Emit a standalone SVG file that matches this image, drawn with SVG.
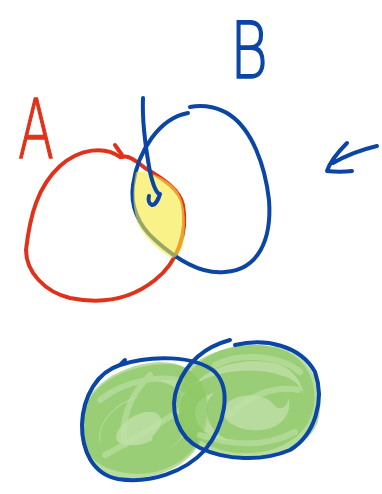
<svg xmlns="http://www.w3.org/2000/svg" width="382" height="494" viewBox="0 0 382 494">
<style>
.red{fill:none;stroke:#e0321a;stroke-width:4;stroke-linecap:round;stroke-linejoin:round}
.blue{fill:none;stroke:#0b45a6;stroke-width:4;stroke-linecap:round;stroke-linejoin:round}
.gf{fill:#9fd07c;fill-opacity:0.75}
.g1{fill:none;stroke:#86c45c;stroke-opacity:0.6;stroke-width:16;stroke-linecap:round;stroke-linejoin:round}
.g2{fill:none;stroke:#bfe2a6;stroke-opacity:0.6;stroke-width:6;stroke-linecap:round;stroke-linejoin:round}
.lbl{font-family:"DejaVu Sans","Liberation Sans",sans-serif;font-weight:200;stroke-width:1.6;stroke-linejoin:round}
</style>
<rect width="382" height="494" fill="#ffffff"/>
<g id="labelA"><text class="lbl" x="18" y="158" font-size="82" fill="#e0321a" stroke="#e0321a" textLength="36" lengthAdjust="spacingAndGlyphs">A</text></g>
<g id="labelB"><text class="lbl" x="230" y="78" font-size="78" fill="#0b45a6" stroke="#0b45a6" textLength="38" lengthAdjust="spacingAndGlyphs">B</text></g>
<g id="circleA">
<path class="red" d="M115,145 L122,155"/>
<path class="red" d="M120,157 C105,146 80,148 60,166 C38,186 30,215 26,250 C26,272 45,292 70,298 C100,304 130,300 155,280 C178,262 188,232 183,205 C180,190 165,180 145,168 C135,160 128,155 122,157"/>
</g>
<g id="circleB">
<path class="blue" d="M190,107 C205,104 220,108 230,115 C252,130 265,165 269,200 C272,240 258,270 225,272 C200,275 175,258 155,240 C138,225 130,205 133,185 C138,150 160,118 188,113"/>
</g>
<g id="intersection">
<path d="M136,172 C150,170 170,180 178,192 C186,205 186,225 183,245 C181,252 176,258 172,258 C160,252 148,240 140,228 C132,212 132,190 136,172 Z" fill="#f5ea3a" fill-opacity="0.6"/>
</g>
<g id="connectors">
<path class="blue" d="M143,98 C142,120 146,150 150,172 C153,185 156,192 159,194 M160,194 C158,200 156,205 152,205 C149,204 148,200 149,196"/>
<path class="blue" d="M377,146 C360,150 345,156 333,163 M347,143 C338,152 330,162 327,171 C335,172 344,172 352,171"/>
</g>
<g id="unionLeft">
<path class="gf" d="M80,425 C80,395 110,365 160,362 C200,362 215,395 205,430 C195,465 160,480 125,478 C95,475 80,455 80,425 Z"/>
<path class="g1" d="M90,420 C95,390 130,372 170,372 C200,375 205,410 190,440 C170,470 120,475 95,450 C85,435 95,410 120,395 C150,380 185,390 180,420 C175,445 140,460 115,450 C100,440 110,415 140,405 C165,398 180,420 160,440"/>
<path class="g2" d="M100,400 C125,380 165,372 195,385 M105,455 C135,440 165,420 188,405 M150,375 C130,395 120,420 125,445"/>
</g>
<g id="unionRight">
<path class="gf" d="M180,395 C185,365 215,345 255,345 C295,345 318,370 314,405 C310,435 280,455 240,453 C200,451 175,425 180,395 Z"/>
<path class="g1" d="M185,385 C200,360 240,348 275,355 C305,362 318,390 310,420 C300,445 260,452 225,448 C195,444 180,420 190,400 C205,380 250,372 285,385 C305,395 300,425 275,435 C245,445 210,430 215,405 C225,385 265,380 280,400"/>
<path class="g2" d="M215,365 C240,352 280,355 300,372 M200,435 C230,445 265,448 295,432 M230,415 C250,395 275,385 298,390"/>
</g>
<g id="ellipseLeft">
<path class="blue" d="M120,365 C150,355 195,355 215,372 C232,390 225,425 205,450 C185,472 150,484 118,479 C92,474 82,450 82,425 C83,395 98,372 120,365 L125,360"/>
</g>
<g id="ellipseRight">
<path class="blue" d="M235,345 C265,338 300,345 315,372 C325,400 315,435 290,450 C262,462 225,460 200,448 C178,437 168,410 178,385 C188,360 208,346 230,340"/>
</g>
</svg>
